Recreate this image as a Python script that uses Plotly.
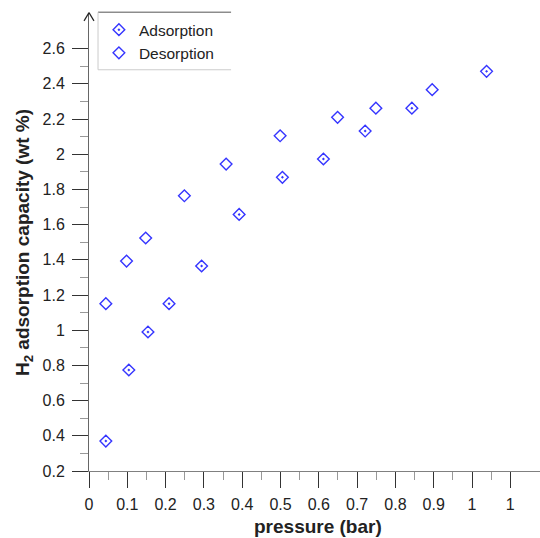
import plotly.graph_objects as go

# Data
ads_p = [0.044, 0.104, 0.154, 0.209, 0.294, 0.392, 0.505, 0.612, 0.721, 0.843, 1.038]
ads_c = [0.37, 0.774, 0.99, 1.151, 1.365, 1.658, 1.869, 1.973, 2.132, 2.262, 2.471]
des_p = [0.044, 0.098, 0.148, 0.249, 0.358, 0.499, 0.649, 0.749, 0.896]
des_c = [1.151, 1.393, 1.524, 1.764, 1.944, 2.105, 2.21, 2.262, 2.367]

x_tickvals = [0, 0.1, 0.2, 0.3, 0.4, 0.5, 0.6, 0.7, 0.8, 0.9, 1.0, 1.1]
x_ticktext = ["0", "0.1", "0.2", "0.3", "0.4", "0.5", "0.6", "0.7", "0.8", "0.9", "1", "1"]
x_minor = [0.05, 0.15, 0.25, 0.35, 0.45, 0.55, 0.65, 0.75, 0.85, 0.95, 1.05]
y_tickvals = [0.2, 0.4, 0.6, 0.8, 1.0, 1.2, 1.4, 1.6, 1.8, 2.0, 2.2, 2.4, 2.6]
y_ticktext = ["0.2", "0.4", "0.6", "0.8", "1", "1.2", "1.4", "1.6", "1.8", "2", "2.2", "2.4", "2.6"]
y_minor = [0.3, 0.5, 0.7, 0.9, 1.1, 1.3, 1.5, 1.7, 1.9, 2.1, 2.3, 2.5]

FONT = "Liberation Sans, Arial, sans-serif"
BLUE = "#3535ff"

fig = go.Figure()
fig.add_trace(go.Scatter(
    x=ads_p, y=ads_c, mode="markers", name="Adsorption",
    marker=dict(symbol="diamond-open-dot", size=9, color=BLUE, line=dict(width=1.4, color=BLUE)),
))
fig.add_trace(go.Scatter(
    x=des_p, y=des_c, mode="markers", name="Desorption",
    marker=dict(symbol="diamond-open", size=9, color=BLUE, line=dict(width=1.4, color=BLUE)),
))

fig.update_layout(
    width=540, height=538,
    margin=dict(l=89, r=0, t=14, b=67, autoexpand=False),
    paper_bgcolor="white", plot_bgcolor="white",
    font=dict(family=FONT, size=16, color="#222"),
    showlegend=True,
    legend=dict(x=0.022, y=1.002, xanchor="left", yanchor="top",
                bgcolor="rgba(0,0,0,0)", borderwidth=0,
                font=dict(size=15.5, color="#222"),
                tracegroupgap=0),
    xaxis=dict(range=[0, 1.1775], showgrid=False, zeroline=False,
               showline=True, linecolor="#808080", linewidth=1,
               tickmode="array", tickvals=x_tickvals, ticktext=x_ticktext,
               ticks="outside", ticklen=16, tickwidth=1, tickcolor="#333",
               tickfont=dict(size=16, color="#222"), automargin=False,
               ticklabelstandoff=3,
               minor=dict(tickmode="array", tickvals=x_minor, ticks="outside",
                          ticklen=8, tickcolor="#999", tickwidth=1)),
    yaxis=dict(range=[0.2, 2.797], showgrid=False, zeroline=False,
               showline=True, linecolor="#666", linewidth=1,
               tickmode="array", tickvals=y_tickvals, ticktext=y_ticktext,
               ticks="outside", ticklen=16, tickwidth=1, tickcolor="#333",
               tickfont=dict(size=16, color="#222"), automargin=False,
               ticklabelstandoff=4,
               minor=dict(tickmode="array", tickvals=y_minor, ticks="outside",
                          ticklen=8, tickcolor="#999", tickwidth=1)),
)

# axis titles
fig.add_annotation(text="<b>pressure (bar)</b>", xref="paper", yref="paper",
                   x=0.507, y=-0.122, xanchor="center", yanchor="middle",
                   showarrow=False, font=dict(size=19, color="#222", family=FONT))
fig.add_annotation(text="<b>H<sub>2</sub> adsorption capacity (wt %)</b>", xref="paper", yref="paper",
                   x=-0.145, y=0.5, xanchor="center", yanchor="middle", textangle=-90,
                   showarrow=False, font=dict(size=19, color="#222", family=FONT))

# arrow head on the y axis
fig.add_shape(type="line", xref="paper", yref="paper", x0=0, y0=1.003, x1=-0.011, y1=0.985,
              line=dict(color="#222", width=1.2))
fig.add_shape(type="line", xref="paper", yref="paper", x0=0, y0=1.003, x1=0.011, y1=0.985,
              line=dict(color="#222", width=1.2))

# legend frame
fig.add_shape(type="line", xref="paper", yref="paper", x0=0.02, y0=1.004, x1=0.315, y1=1.004,
              line=dict(color="#555", width=1))
fig.add_shape(type="line", xref="paper", yref="paper", x0=0.02, y0=1.004, x1=0.02, y1=0.878,
              line=dict(color="#ccc", width=1))
fig.add_shape(type="line", xref="paper", yref="paper", x0=0.02, y0=0.878, x1=0.315, y1=0.878,
              line=dict(color="#ccc", width=1))

fig.write_html("out.html", config={"displayModeBar": False},
               post_script="document.body.style.margin='0';document.body.style.overflow='hidden';")
